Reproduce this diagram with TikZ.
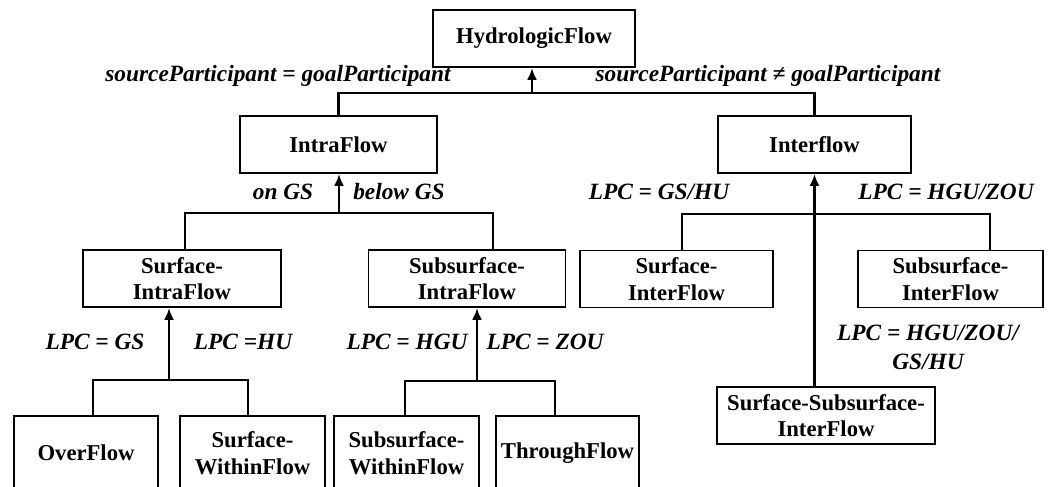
\documentclass[tikz,border=0pt]{standalone}
\usepackage{fontspec}
\setmainfont{Liberation Serif}
\usetikzlibrary{arrows.meta,calc}
\begin{document}
\begin{tikzpicture}[x=0.75pt,y=-0.75pt,
  box/.style={draw, line width=1.4pt, align=center, inner sep=0pt,
    font=\bfseries\fontsize{17}{20}\selectfont, minimum height=42.75pt},
  lowbox/.style={box, minimum height=55.5pt},
  conn/.style={line width=2.2pt},
  arr/.style={conn, -{Latex[length=9pt,width=7.5pt]}},
  lbl/.style={inner sep=0pt, font=\bfseries\itshape\fontsize{17.5}{21.75}\selectfont, align=center}]
\useasboundingbox (0,0) rectangle (1054,486);
\clip (0,0) rectangle (1054,486);
% boxes
\node[box, minimum width=151.5pt] (hf) at (534,38.5) {HydrologicFlow};
\node[box, minimum width=147.75pt] (intra) at (338.5,144.5) {IntraFlow};
\node[box, minimum width=144.75pt] (inter) at (814.5,144.5) {Interflow};
\node[box, minimum width=148.5pt] (sintra) at (182,278.5) {Surface-\\IntraFlow};
\node[box, minimum width=147.75pt] (subintra) at (467,278.5) {Subsurface-\\IntraFlow};
\node[box, minimum width=144.75pt] (sinter) at (676.5,279) {Surface-\\InterFlow};
\node[box, minimum width=138.75pt] (subinter) at (950.5,279) {Subsurface-\\InterFlow};
\node[box, minimum width=163.5pt] (ssinter) at (826,415.5) {Surface-Subsurface-\\InterFlow};
\node[lowbox, minimum width=108pt] (over) at (86,453) {OverFlow};
\node[lowbox, minimum width=108.75pt] (swf) at (252.5,453) {Surface-\\WithinFlow};
\node[lowbox, minimum width=108.75pt] (subwf) at (406.5,453) {Subsurface-\\WithinFlow};
\node[lowbox, minimum width=107.25pt] (through) at (567.5,453) {ThroughFlow};
% junctions
\coordinate (j1) at (532,93);
\coordinate (j2) at (339,213);
\coordinate (j3) at (815,214);
\coordinate (j4) at (169,380);
\coordinate (j5) at (477,381);
% connectors
\draw[conn] (intra.north) |- (j1) -| (inter.north);
\draw[arr] (j1) -- (j1 |- hf.south);
\draw[conn] ($(sintra.north)+(3,0)$) |- (j2) -| ($(subintra.north)+(26,0)$);
\draw[arr] (j2) -- (j2 |- intra.south);
\draw[conn] ($(sinter.north)+(5.5,0)$) |- (j3) -| ($(subinter.north)+(39.5,0)$);
\draw[arr] (ssinter.north -| inter.south) -- (inter.south);
\draw[conn] ($(over.north)+(7,0)$) |- (j4) -| ($(swf.north)+(-4.5,0)$);
\draw[arr] (j4) -- (j4 |- sintra.south);
\draw[conn] ($(subwf.north)+(-1.5,0)$) |- (j5) -| ($(through.north)+(-12.5,0)$);
\draw[arr] (j5) -- (j5 |- subintra.south);
% labels
\node[lbl] (l1) at (278,76) {sourceParticipant = goalParticipant};
\node[lbl] (l2) at (768,76) {sourceParticipant ≠ goalParticipant};
\node[lbl] (l3) at (283,192) {on GS};
\node[lbl] (l4) at (399,192) {below GS};
\node[lbl] (l5) at (659,192) {LPC = GS/HU};
\node[lbl] (l6) at (946,192) {LPC = HGU/ZOU};
\node[lbl] (l7) at (95,342) {LPC = GS};
\node[lbl] (l8) at (243,342) {LPC =HU};
\node[lbl] (l9) at (407,342) {LPC = HGU};
\node[lbl] (l10) at (545,342) {LPC = ZOU};
\node[lbl] (l11) at (928,347) {LPC = HGU/ZOU/\\GS/HU};
\end{tikzpicture}
\end{document}
